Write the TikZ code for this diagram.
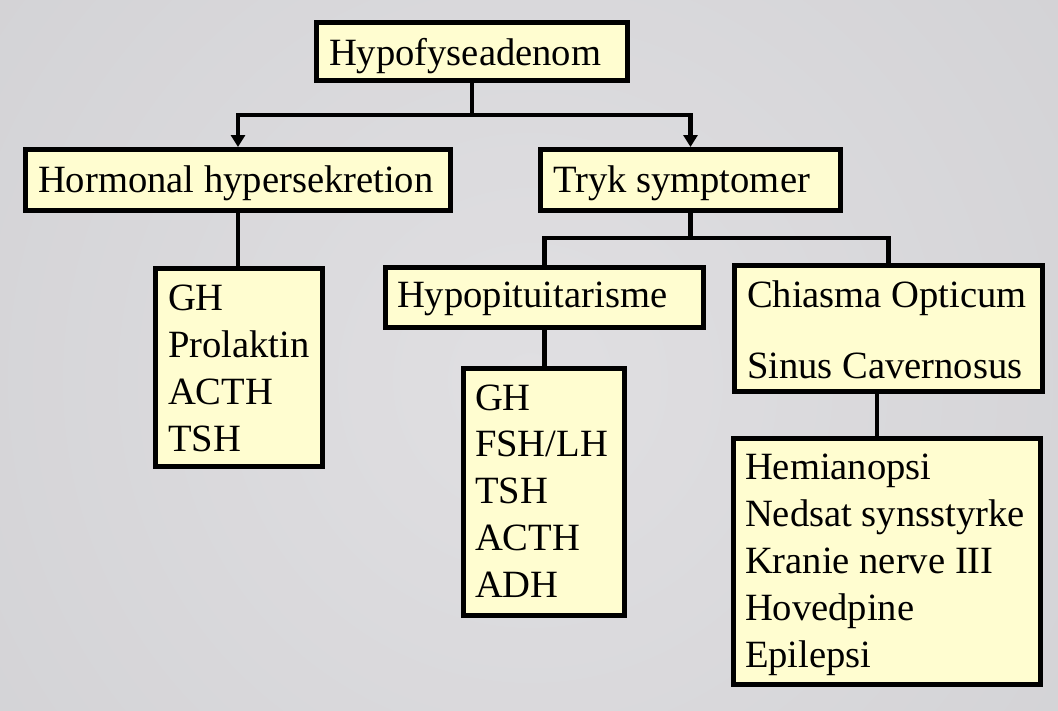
\documentclass[tikz,border=0pt]{standalone}
\usepackage{fontspec}
\setmainfont{Liberation Serif}
\usetikzlibrary{arrows.meta}
\definecolor{boxfill}{RGB}{255,253,208}
\definecolor{bgin}{RGB}{224,223,226}
\definecolor{bgout}{RGB}{203,203,206}
\begin{document}
\begin{tikzpicture}[x=1pt,y=-1pt,
  box/.style={draw=black, fill=boxfill, line width=5pt, rectangle, anchor=north west, inner sep=0pt, outer sep=2.5pt},
  txt/.style={anchor=base west, inner sep=0pt, outer sep=0pt, font=\fontsize{38.6}{46}\selectfont, text=black},
  conn/.style={draw=black, line width=4.5pt},
  arr/.style={conn, -{Triangle[width=14pt,length=12pt]}}]
\useasboundingbox (0,0) rectangle (1058,710);
\begin{scope}
  \clip (0,0) rectangle (1058,710);
  \shade[inner color=bgin, outer color=bgout] (-570,-720) rectangle (1630,1480);
\end{scope}

% boxes
\node[box, minimum width=311pt, minimum height=58pt] (top) at (314,20) {};
\node[box, minimum width=425pt, minimum height=61pt] (horm) at (23,147) {};
\node[box, minimum width=300pt, minimum height=61pt] (tryk) at (538,147) {};
\node[box, minimum width=167pt, minimum height=198pt] (LL) at (153,266) {};
\node[box, minimum width=318pt, minimum height=60pt] (hypo) at (383,265) {};
\node[box, minimum width=308pt, minimum height=126pt] (chias) at (732,263) {};
\node[box, minimum width=161pt, minimum height=247pt] (HL) at (461,366) {};
\node[box, minimum width=307pt, minimum height=246pt] (RL) at (731,436) {};

% texts
\node[txt] (t-top) at (329,65) {Hypofyseadenom};
\node[txt] (t-horm) at (38,192) {Hormonal hypersekretion};
\node[txt] (t-tryk) at (553,192) {Tryk symptomer};
\node[txt] (t-hypo) at (397,307) {Hypopituitarisme};
\node[txt] (t-chias1) at (747,307) {Chiasma Opticum};
\node[txt] (t-chias2) at (747,378) {Sinus Cavernosus};
\foreach \t [count=\i] in {GH,Prolaktin,ACTH,TSH}
  \node[txt] (t-LL-\i) at (168,{310+47*(\i-1)}) {\t};
\foreach \t [count=\i] in {GH,FSH/LH,TSH,ACTH,ADH}
  \node[txt] (t-HL-\i) at (475,{410+46.8*(\i-1)}) {\t};
\foreach \t [count=\i] in {Hemianopsi,Nedsat synsstyrke,Kranie nerve III,Hovedpine,Epilepsi}
  \node[txt] (t-RL-\i) at (745,{479+47*(\i-1)}) {\t};

% connectors
\coordinate (s1) at (472,115);
\draw[conn] (top.south) -- (s1);
\draw[arr] (s1) -| (horm.north);
\draw[arr] (s1) -| (tryk.north);
\draw[conn] (horm.south) -- (horm.south |- LL.north);
\coordinate (s2) at (690.5,238);
\draw[conn] (tryk.south) -- (s2);
\draw[conn] (hypo.north) |- (s2) -| (chias.north);
\draw[conn] (hypo.south) -- (hypo.south |- HL.north);
\draw[conn] ([xshift=-11.5pt]chias.south) -- ([xshift=-11.5pt]chias.south |- RL.north);
\end{tikzpicture}
\end{document}
